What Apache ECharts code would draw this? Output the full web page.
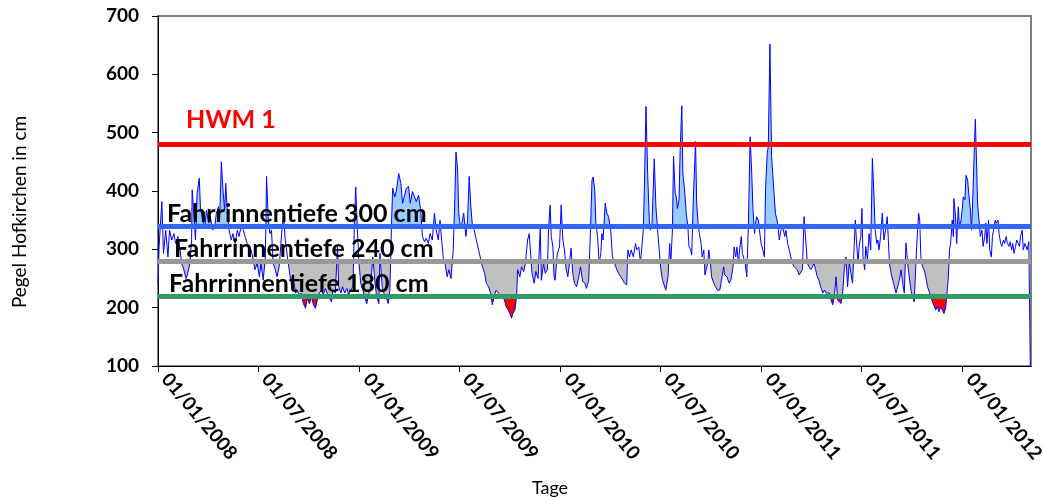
<!DOCTYPE html>
<html>
<head>
<meta charset="utf-8">
<title>Pegel Hofkirchen 2008-2012</title>
<script src="https://cdn.jsdelivr.net/npm/echarts@6.0.0/dist/echarts.min.js"></script>
<style>
  html, body { margin: 0; padding: 0; background: #fff; }
  #chart { width: 1043px; height: 497px; }
</style>
</head>
<body>
<div id="chart"></div>
<script>
// Pegel Hofkirchen (cm), je Jahr Datum (MM-TT) + Wert
const datum2008 = [
  '01-01','01-03','01-08','01-11','01-15','01-19','01-22','01-26','01-30','02-02',
  '02-06','02-10','02-13','02-17','02-21','02-24','02-28','03-02','03-03','03-06',
  '03-09','03-12','03-16','03-18','03-22','03-26','03-29','04-02','04-05','04-09',
  '04-13','04-16','04-20','04-22','04-25','04-28','05-01','05-03','05-06','05-09',
  '05-13','05-16','05-20','05-24','05-27','05-31','06-04','06-07','06-11','06-14',
  '06-18','06-22','06-25','06-29','07-03','07-06','07-10','07-14','07-16','07-19',
  '07-22','07-25','07-28','08-01','08-04','08-08','08-13','08-16','08-19',
  '08-23','08-27','08-31','09-03','09-07','09-10','09-14','09-17','09-21','09-25',
  '09-28','10-02','10-06','10-09','10-13','10-16','10-20','10-24','10-27','10-31',
  '11-03','11-07','11-11','11-14','11-18','11-22','11-24','11-28','12-01','12-05',
  '12-09','12-12','12-16','12-20','12-23','12-25','12-28','12-31'
];
const pegel2008 = [
  242,305,382,293,333,287,333,316,327,310,
  322,299,276,265,250,259,276,316,402,362,
  316,396,422,373,350,339,367,345,356,333,
  339,362,373,356,450,402,367,413,362,333,
  316,327,310,333,322,339,333,322,310,305,
  299,282,265,276,253,276,247,287,425,356,
  327,333,276,265,253,270,333,359,316,
  287,259,236,247,225,230,219,225,207,199,
  216,207,219,205,199,213,225,230,222,233,
  225,216,210,230,225,307,236,225,236,225,
  233,222,230,236,362,407,333,276
];

const datum2009 = [
  '01-03','01-07','01-10','01-14','01-18','01-21','01-25','01-29','02-01','02-05',
  '02-07','02-11','02-14','02-18','02-22','02-25','02-28','03-02','03-06','03-09',
  '03-13','03-17','03-20','03-23','03-27','03-31','04-03','04-07','04-11','04-14',
  '04-18','04-22','04-25','04-29','05-02','05-06','05-09','05-13','05-17','05-20',
  '05-24','05-27','05-30','06-02','06-05','06-09','06-12','06-16','06-20','06-23',
  '06-25','06-28','06-30','07-03','07-06','07-09','07-13','07-16','07-19','07-22',
  '07-25','07-28','08-01','08-05','08-08','08-12','08-16','08-19','08-23','08-27',
  '08-30','09-03','09-06','09-10','09-13','09-17','09-21','09-24','09-28','10-02',
  '10-04','10-06','10-10','10-13','10-15','10-19','10-22','10-26','10-29','11-02',
  '11-05','11-10','11-14','11-17','11-21','11-25','11-27','12-01','12-04','12-08',
  '12-10','12-13','12-15','12-18','12-20','12-22','12-26','12-30'
];
const pegel2009 = [
  242,230,219,207,225,236,287,242,219,207,
  293,236,225,219,207,230,345,405,390,402,
  430,413,379,390,405,408,379,399,390,382,
  393,367,322,313,319,310,327,316,362,333,
  316,350,316,285,276,253,265,250,299,390,
  467,436,362,339,345,362,322,350,425,373,
  339,333,316,299,287,270,259,242,236,225,
  205,222,230,225,224,218,213,202,196,187,
  182,190,196,219,265,253,270,262,276,316,
  327,259,242,262,250,336,247,276,259,265,
  333,376,322,304,253,247,293,304
];

const datum2010 = [
  '01-02','01-05','01-08','01-11','01-14','01-17','01-20','01-23','01-26','01-30',
  '02-03','02-06','02-10','02-14','02-17','02-21','02-24','02-27','03-01','03-04',
  '03-06','03-09','03-12','03-15','03-17','03-19','03-23','03-26','03-29','04-02',
  '04-05','04-09','04-13','04-16','04-20','04-24','04-27','05-01','05-03','05-06',
  '05-09','05-13','05-17','05-19','05-23','05-26','05-29','05-31','06-02','06-05',
  '06-08','06-11','06-13','06-16','06-18','06-20','06-23','06-26','06-29','07-02',
  '07-05','07-08','07-11','07-13','07-15','07-18','07-20','07-23','07-25','07-28',
  '07-30','08-01','08-04','08-06','08-09','08-11','08-14','08-17','08-20','08-22',
  '08-25','08-27','08-30','09-01','09-03','09-05','09-08','09-10','09-13','09-15',
  '09-18','09-20','09-23','09-25','09-27','09-30','10-02','10-06','10-09','10-13',
  '10-17','10-20','10-24','10-26','10-30','11-03','11-06','11-10','11-12','11-15',
  '11-17','11-20','11-22','11-25','11-27','11-29','12-02','12-05','12-08','12-11',
  '12-14','12-16','12-19','12-21','12-23','12-26','12-28','12-31'
];
const pegel2010 = [
  376,316,299,265,253,276,302,259,242,236,
  253,270,245,242,233,247,327,419,424,402,
  345,322,276,293,327,316,379,362,356,333,
  287,276,265,259,253,247,242,239,299,287,
  299,287,310,299,304,276,310,333,402,545,
  430,350,333,345,402,455,373,333,299,265,
  247,245,230,227,253,310,276,333,460,396,
  390,370,385,470,546,430,402,362,339,305,
  299,290,390,436,485,379,339,327,310,287,
  299,256,253,276,299,276,253,242,236,230,
  230,247,270,256,253,242,247,270,304,287,
  304,276,299,322,293,287,276,253,345,493,
  430,373,327,345,356,350,333,310
];

const datum2011 = [
  '01-03','01-06','01-08','01-11','01-13','01-16','01-19','01-23','01-26','01-30',
  '02-02','02-05','02-08','02-12','02-14','02-17','02-20','02-23','02-26','03-01',
  '03-04','03-07','03-10','03-13','03-16','03-19','03-22','03-25','03-28','03-31',
  '04-03','04-06','04-09','04-12','04-15','04-18','04-22','04-25','04-28','05-01',
  '05-04','05-07','05-10','05-13','05-16','05-19','05-22','05-25','05-28','05-31',
  '06-03','06-06','06-09','06-12','06-15','06-18','06-20','06-22','06-25','06-27',
  '06-30','07-02','07-04','07-07','07-09','07-12','07-15','07-18','07-21','07-24',
  '07-26','07-29','07-31','08-02','08-05','08-08','08-11','08-14','08-17','08-21',
  '08-24','08-27','08-30','09-02','09-05','09-08','09-11','09-14','09-17','09-20',
  '09-23','09-26','09-29','10-02','10-05','10-08','10-11','10-13','10-15','10-17',
  '10-20','10-23','10-26','10-29','11-01','11-04','11-07','11-10','11-13','11-16',
  '11-19','11-22','11-25','11-28','12-01','12-04','12-06','12-08','12-10','12-13',
  '12-15','12-16','12-19','12-21','12-24','12-26','12-29','12-31'
];
const pegel2011 = [
  299,287,402,464,476,652,459,402,362,345,
  316,333,339,322,333,310,299,287,276,270,
  273,265,256,253,265,356,316,276,270,265,
  270,276,265,253,247,236,225,230,225,228,
  225,213,205,219,253,213,216,207,225,265,
  287,236,276,259,242,305,350,316,276,305,
  322,370,287,265,305,282,327,299,456,390,
  333,310,316,299,322,362,316,333,356,276,
  259,247,236,225,236,247,265,242,225,311,
  276,253,230,219,210,276,333,362,350,287,
  270,265,253,236,228,219,210,207,196,202,
  193,202,196,190,199,196,253,299,310,350,
  322,387,356,310,373,339,350,367
];

const datum2012 = [
  '01-02','01-05','01-07','01-10','01-12','01-15','01-17','01-19','01-22','01-24',
  '01-26','01-28','01-31','02-02','02-05','02-07','02-10','02-12','02-14','02-17',
  '02-19','02-22','02-24','02-26','02-29','03-02','03-05','03-07','03-10','03-12',
  '03-15','03-17','03-20','03-22','03-25','03-27','03-30','04-01','04-03','04-06',
  '04-08','04-11','04-13','04-15','04-18','04-20','04-23','04-25','04-27','04-30',
  '05-03'
];
const pegel2012 = [
  390,385,427,419,396,367,333,379,470,523,
  453,379,345,322,333,305,322,345,310,350,
  299,287,322,333,350,345,350,327,310,305,
  316,310,322,310,305,313,299,310,293,305,
  316,310,305,322,333,299,310,305,299,313,
  310
];
// nach dem letzten Messwert faellt die Linie auf 0 (leere Zellen)
const endeDatum = '2012-05-04';
const endeWert = 0;

// Grenzlinien
const grenzWerte = [480, 340, 280, 220];
const grenzNamen = ['HWM 1', 'Fahrrinnentiefe 300 cm', 'Fahrrinnentiefe 240 cm', 'Fahrrinnentiefe 180 cm'];

// Achsen
const xStart = '2008-01-01';
const xEnde = '2012-05-04';
const xTicks = ['2008-01-01','2008-07-01','2009-01-01','2009-07-01','2010-01-01',
                '2010-07-01','2011-01-01','2011-07-01','2012-01-01'];
const yMin = 100, yMax = 700, yStep = 100;

function zeit(s) {
  const p = s.split('-');
  return Date.UTC(+p[0], +p[1] - 1, +p[2]);
}
function zwei(n) { return (n < 10 ? '0' : '') + n; }
function datumText(v) {
  const d = new Date(v);
  return zwei(d.getUTCDate()) + '/' + zwei(d.getUTCMonth() + 1) + '/' + d.getUTCFullYear();
}

const jahre = [
  [2008, datum2008, pegel2008],
  [2009, datum2009, pegel2009],
  [2010, datum2010, pegel2010],
  [2011, datum2011, pegel2011],
  [2012, datum2012, pegel2012]
];
const punkte = [];
jahre.forEach(([jahr, tage, werte]) => {
  if (tage.length !== werte.length) console.warn('Laenge passt nicht', jahr, tage.length, werte.length);
  tage.forEach((t, i) => punkte.push([zeit(jahr + '-' + t), werte[i]]));
});
const linienPunkte = punkte.concat([[zeit(endeDatum), endeWert]]);

const schrift = 'Lato, "Liberation Sans", sans-serif';
const chart = echarts.init(document.getElementById('chart'));

const labelAbstand = [[28, 12], [9, 0], [16, 0], [11, 0]];
const linienFarben = ['#FF0000', '#3366FF', '#999999', '#339966'];
const xTickWerte = xTicks.map(zeit);

const option = {
  animation: false,
  backgroundColor: '#fff',
  grid: {
    left: 158, right: 12, top: 16, bottom: 131,
    outerBoundsMode: 'none',
    show: true, borderColor: '#808080', borderWidth: 2
  },
  xAxis: {
    // Zeitachse als Zahlenachse (ms), Ticks halbjaehrlich
    type: 'value',
    min: zeit(xStart),
    max: zeit(xEnde),
    axisLine: { lineStyle: { color: '#000', width: 1 } },
    axisTick: { show: true, length: 6, lineStyle: { color: '#000' }, customValues: xTickWerte },
    axisLabel: {
      customValues: xTickWerte,
      rotate: -50,
      margin: 16,
      align: 'left',
      verticalAlign: 'bottom',
      formatter: v => datumText(v),
      color: '#000', fontFamily: schrift, fontWeight: 'bold', fontSize: 19
    },
    splitLine: { show: false }
  },
  yAxis: {
    type: 'value',
    min: yMin, max: yMax, interval: yStep,
    axisLine: { show: true, lineStyle: { color: '#000', width: 1 } },
    axisTick: { show: true, length: 6, lineStyle: { color: '#000' } },
    axisLabel: { margin: 19, color: '#000', fontFamily: schrift, fontWeight: 'bold', fontSize: 19 },
    splitLine: { show: false }
  },
  visualMap: {
    type: 'piecewise',
    show: false,
    seriesIndex: 0,
    dimension: 1,
    pieces: [
      { gt: grenzWerte[1], color: '#99CCFF' },
      { gt: grenzWerte[2], lte: grenzWerte[1], color: 'rgba(255,255,255,0)' },
      { gt: grenzWerte[3], lte: grenzWerte[2], color: '#C0C0C0' },
      { lte: grenzWerte[3], color: '#FF0000' }
    ]
  },
  series: [
    {
      // Flaechen oberhalb 300 cm / unterhalb 240 und 180 cm
      name: 'Flaeche',
      type: 'line',
      data: punkte,
      symbol: 'none',
      silent: true,
      lineStyle: { width: 0, opacity: 0 },
      areaStyle: { origin: grenzWerte[1], opacity: 1 },
      z: 1
    },
    {
      name: 'Pegel',
      type: 'line',
      data: linienPunkte,
      symbol: 'none',
      silent: true,
      lineStyle: { color: '#0000FF', width: 1 },
      itemStyle: { color: '#0000FF' },
      z: 2
    },
    {
      name: 'Grenzen',
      type: 'line',
      data: [],
      z: 3,
      markLine: {
        silent: true,
        symbol: ['none', 'none'],
        animation: false,
        data: grenzWerte.map((w, i) => ({
          yAxis: w,
          lineStyle: { color: linienFarben[i], width: 5, type: 'solid' },
          label: {
            show: true,
            position: 'insideStartTop',
            distance: labelAbstand[i],
            formatter: grenzNamen[i],
            color: i === 0 ? '#FF0000' : '#000',
            fontFamily: schrift,
            fontWeight: 'bold',
            fontSize: 25
          }
        }))
      }
    }
  ],
  graphic: [
    {
      type: 'text', x: 20, y: 212, rotation: Math.PI / 2,
      style: { text: 'Pegel Hofkirchen in cm', fill: '#000', font: '19px ' + schrift, align: 'center', verticalAlign: 'middle' }
    },
    {
      type: 'text', x: 550, y: 488,
      style: { text: 'Tage', fill: '#000', font: '18px ' + schrift, align: 'center', verticalAlign: 'middle' }
    }
  ]
};

chart.setOption(option);
</script>
</body>
</html>
